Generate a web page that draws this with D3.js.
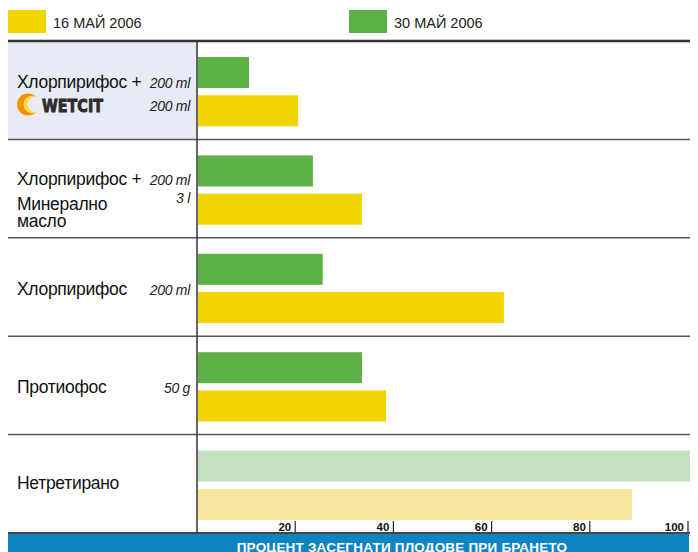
<!DOCTYPE html>
<html>
<head>
<meta charset="utf-8">
<script src="https://cdn.jsdelivr.net/npm/d3@7"></script>
<style>
  body { margin: 0; background: #fff; }
  svg { display: block; font-family: "Liberation Sans", Arial, sans-serif; }
</style>
</head>
<body>
<div id="chart"></div>
<script>
// Data
const categories = ["Хлорпирифос + WETCIT", "Хлорпирифос + Минерално масло", "Хлорпирифос", "Протиофос", "Нетретирано"];
const may16 = [20.4, 33.4, 62.3, 38.3, 88.4];
const may30 = [10.4, 23.4, 25.4, 33.4, 100];
const seriesNames = ["16 МАЙ 2006", "30 МАЙ 2006"];
const labelLines = [["Хлорпирифос +"], ["Хлорпирифос +", "Минерално", "масло"], ["Хлорпирифос"], ["Протиофос"], ["Нетретирано"]];
const doseLines = [["200 ml", "200 ml"], ["200 ml", "3 l"], ["200 ml"], ["50 g"], []];
const tickValues = [20, 40, 60, 80, 100];
const axisTitle = "ПРОЦЕНТ ЗАСЕГНАТИ ПЛОДОВЕ ПРИ БРАНЕТО";

const width = 698, height = 552;
const plotLeft = 8, axisX = 197, plotRight = 690, plotTop = 41, plotBottom = 533;

const yellow = "#f2d500", green = "#5eb144";
const yellowLight = "#f7e69f", greenLight = "#c3e0c1";

const svg = d3.select("#chart").append("svg")
    .attr("width", width)
    .attr("height", height);

const x = d3.scaleLinear().domain([0, 100]).range([axisX, 688]);
const y = d3.scaleBand().domain(categories).range([plotTop, plotBottom]);
const sub = d3.scaleBand().domain(["30", "16"]).range([0, y.bandwidth()])
    .paddingInner(0.19).paddingOuter(0.38).align(0.55);

// legend
const legend = [{name: seriesNames[0], color: yellow, x: 8}, {name: seriesNames[1], color: green, x: 349}];
legend.forEach(l => {
    svg.append("rect").attr("x", l.x).attr("y", 10).attr("width", 38).attr("height", 23).attr("fill", l.color);
    svg.append("text").attr("x", l.x + 45).attr("y", 27.5).attr("font-size", 14.5).attr("fill", "#222").text(l.name);
});

// first row background
svg.append("rect").attr("x", plotLeft).attr("y", plotTop).attr("width", axisX - plotLeft).attr("height", y.bandwidth())
    .attr("fill", "#e8ebf5");

// bars
const rows = svg.selectAll("g.row").data(categories).join("g")
    .attr("class", "row")
    .attr("transform", d => `translate(0,${y(d)})`);

rows.append("rect")
    .attr("x", x(0) + 1)
    .attr("y", sub("30"))
    .attr("height", sub.bandwidth())
    .attr("width", (d, i) => x(may30[i]) - x(0) + (i === 4 ? 1 : 0))
    .attr("fill", (d, i) => i === 4 ? greenLight : green);

rows.append("rect")
    .attr("x", x(0) + 1)
    .attr("y", sub("16"))
    .attr("height", sub.bandwidth())
    .attr("width", (d, i) => x(may16[i]) - x(0))
    .attr("fill", (d, i) => i === 4 ? yellowLight : yellow);

// row separators
svg.selectAll("line.sep").data(categories.slice(1)).join("line")
    .attr("class", "sep")
    .attr("x1", plotLeft).attr("x2", plotRight)
    .attr("y1", d => y(d)).attr("y2", d => y(d))
    .attr("stroke", "#555").attr("stroke-width", 1.5);

svg.append("line").attr("x1", plotLeft).attr("x2", plotRight).attr("y1", plotTop).attr("y2", plotTop)
    .attr("stroke", "#333").attr("stroke-width", 2.5);
svg.append("line").attr("x1", plotLeft).attr("x2", plotRight).attr("y1", plotBottom).attr("y2", plotBottom)
    .attr("stroke", "#444").attr("stroke-width", 2);
svg.append("line").attr("x1", axisX).attr("x2", axisX).attr("y1", plotTop).attr("y2", plotBottom)
    .attr("stroke", "#333").attr("stroke-width", 1.5);

// labels
const labelBase = [[46.5], [45.5, 71, 87.5], [57.5], [56.5], [54]];
const doseBase = [[46.5, 69.5], [45.5, 64], [57.5], [56.5], []];
rows.each(function(d, i) {
    const g = d3.select(this);
    labelLines[i].forEach((t, j) => {
        g.append("text").attr("x", 17).attr("y", labelBase[i][j])
            .attr("font-size", 17.5).attr("letter-spacing", -0.3).attr("fill", "#111").text(t);
    });
    doseLines[i].forEach((t, j) => {
        g.append("text").attr("x", 190).attr("y", doseBase[i][j]).attr("text-anchor", "end")
            .attr("font-size", 14).attr("font-style", "italic").attr("letter-spacing", -0.3)
            .attr("fill", "#222").text(t);
    });
});

// WETCIT logo
const logo = svg.append("g").attr("transform", `translate(28,104.5)`);
logo.append("circle").attr("r", 11).attr("fill", "#f39200");
logo.append("circle").attr("cx", 4.5).attr("r", 9).attr("fill", "#f9d84e");
logo.append("circle").attr("cx", 7.5).attr("r", 7.8).attr("fill", "#e8ebf5");
logo.append("text").attr("x", 14).attr("y", 7.5).attr("font-family", "DejaVu Sans")
    .attr("font-weight", "bold").attr("font-size", 17)
    .attr("textLength", 61).attr("lengthAdjust", "spacingAndGlyphs")
    .attr("stroke", "#2b2b2b").attr("stroke-width", 0.9)
    .attr("fill", "#2b2b2b").text("WETCIT");

// axis ticks
const ticks = svg.selectAll("g.tick").data(tickValues).join("g")
    .attr("class", "tick")
    .attr("transform", d => `translate(${x(d)},0)`);
ticks.append("line").attr("y1", 521).attr("y2", 532).attr("stroke", "#222").attr("stroke-width", 1.2);
ticks.append("text").attr("x", -4).attr("y", 531).attr("text-anchor", "end")
    .attr("font-size", 11.5).attr("font-weight", "bold").attr("fill", "#111").text(d => d);

// axis title bar
svg.append("rect").attr("x", plotLeft).attr("y", 534).attr("width", plotRight - plotLeft - 1).attr("height", 18).attr("fill", "#0e85c0");
svg.append("text").attr("x", 402).attr("y", 551.5).attr("text-anchor", "middle")
    .attr("font-size", 13.5).attr("font-weight", "bold").attr("letter-spacing", 0.2)
    .attr("fill", "#fff").text(axisTitle);
</script>
</body>
</html>
